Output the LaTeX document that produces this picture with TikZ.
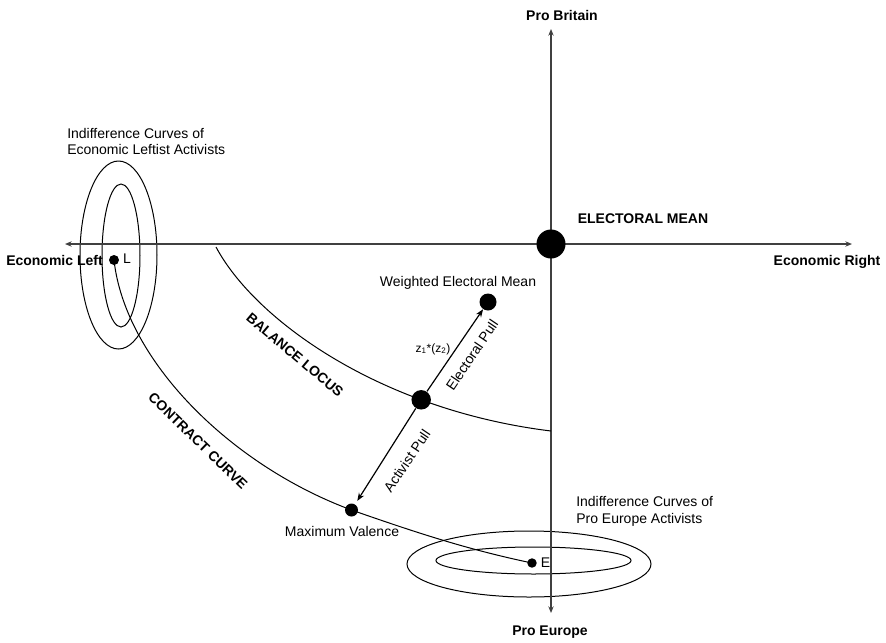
\documentclass[tikz,border=0pt]{standalone}
\usepackage{fontspec}
\setmainfont{Liberation Sans}
\usetikzlibrary{arrows.meta}
\begin{document}
\begin{tikzpicture}[x=0.75pt,y=-0.75pt,
  lbl/.style={font=\fontsize{10.5}{12.6}\selectfont, inner sep=0pt},
  boldlbl/.style={font=\fontsize{10.5}{12.6}\selectfont\bfseries, inner sep=0pt},
  smalllbl/.style={font=\fontsize{9}{10.8}\selectfont, inner sep=0pt},
  axisline/.style={line width=1.1pt, draw=black!75, {Stealth[length=5pt,width=4pt]}-{Stealth[length=5pt,width=4pt]}},
  thincurve/.style={line width=0.75pt},
  blob/.style={circle, fill=black, draw=none, inner sep=0pt, minimum size=#1},
  pull/.style={line width=0.9pt, -{Stealth[length=6pt,width=4.5pt]}}
]
\useasboundingbox (0,0) rectangle (886,643);

% axes
\coordinate (xl) at (65,244);
\coordinate (xr) at (852,244);
\coordinate (yt) at (551,29);
\coordinate (yb) at (551,613);

% indifference curves
\draw[thincurve] (118.5,255) ellipse [x radius=38.5, y radius=94];
\draw[thincurve] (121,255.5) ellipse [x radius=19, y radius=71.5];
\draw[thincurve] (529,564) ellipse [x radius=122, y radius=33];
\draw[thincurve] (533.5,560.5) ellipse [x radius=97.5, y radius=13.5];

\draw[axisline] (xl) -- (xr);
\draw[axisline] (yt) -- (yb);

% key points
\coordinate (Lc) at (114,260);
\coordinate (Ec) at (532,563);
\coordinate (mvc) at (351.5,510);
\coordinate (bl1) at (216,247);
\coordinate (bl2) at (551,431);

% contract curve
\draw[thincurve] (Lc) .. controls (125,360) and (230,465) .. (mvc)
  .. controls (420,534) and (470,550) .. (Ec);

% balance locus with its point
\draw[thincurve] (bl1) .. controls (255,320) and (380,410) .. (bl2)
  node[pos=0.725, blob=14.6pt] (bd) {};

% dots
\node[blob=21.75pt] (em) at (551,244) {};
\node[blob=12.75pt] (wem) at (488,302) {};
\node[blob=9.75pt] (mv) at (mvc) {};
\node[blob=7.5pt] (L) at (Lc) {};
\node[blob=7.1pt] (E) at (Ec) {};

% pulls
\draw[pull] (bd) -- (wem);
\draw[pull, shorten >=3pt] (bd) -- (mv);

% labels
\node[boldlbl] (pb) at (562,15) {Pro Britain};
\node[boldlbl] (pe) at (550,632) {Pro Europe};
\node[boldlbl, anchor=west] (el) at (6,260) {Economic Left};
\node[boldlbl] (er) at (827,262) {Economic Right};
\node[boldlbl] (emt) at (643,219) {ELECTORAL MEAN};
\node[lbl] (Lt) at (127,259) {L};
\node[lbl] (Et) at (545.5,563) {E};
\node[lbl] (wemt) at (458,283) {Weighted Electoral Mean};
\node[smalllbl] (zt) at (433,349) {z\textsubscript{1}*(z\textsubscript{2})};
\node[lbl] (mvt) at (342,531) {Maximum Valence};
\node[lbl, rotate=56] (ept) at (472,355) {Electoral Pull};
\node[lbl, rotate=56] (apt) at (407,461) {Activist Pull};
\node[boldlbl, rotate=-40] (blt) at (295,355) {BALANCE LOCUS};
\node[boldlbl, rotate=-44] (cct) at (198,441) {CONTRACT CURVE};
\node[lbl, anchor=west, align=left] (lic) at (67,141.5) {Indifference Curves of\\Economic Leftist Activists};
\node[lbl, anchor=west, align=left] (eic) at (576,511.5) {Indifference Curves of\\Pro Europe Activists};
\end{tikzpicture}
\end{document}
